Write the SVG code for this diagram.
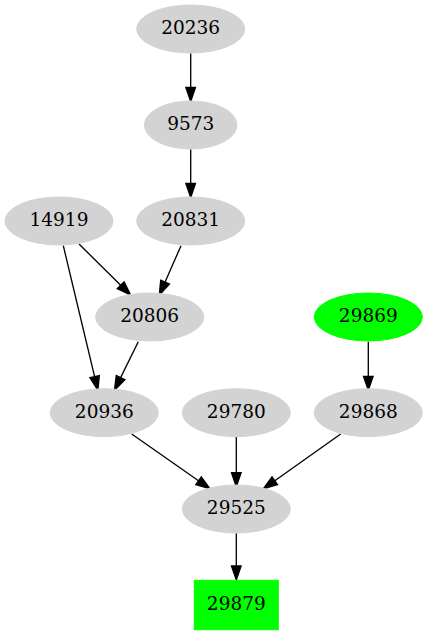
<svg xmlns="http://www.w3.org/2000/svg" width="427" height="635" viewBox="0 0 427 635">
<style>
.n ellipse{fill:#d3d3d3;stroke:#d3d3d3}
.g ellipse,.g rect{fill:#00ff00;stroke:#00ff00}
text{font-family:"DejaVu Serif","Liberation Serif",serif;font-size:18.5px;text-anchor:middle;fill:#000}
.e line{stroke:#000;stroke-width:1.33;fill:none}
.e polygon{fill:#000;stroke:#000;stroke-width:1.33}
</style>
<rect width="427" height="635" fill="#fff"/>
<g class="e" id="edges">
<line x1="190.7" y1="53.3" x2="190.7" y2="87.5"/>
<polygon points="185.9,87.5 190.7,101.5 195.5,87.5"/>
<line x1="190.7" y1="149.3" x2="190.7" y2="183.5"/>
<polygon points="185.9,183.5 190.7,197.5 195.5,183.5"/>
<line x1="79" y1="244" x2="120.7" y2="285.2"/>
<polygon points="117.3,288.6 130.7,295 124.1,281.8"/>
<line x1="181" y1="245.7" x2="165.1" y2="282.1"/>
<polygon points="160.7,280.2 159.3,295 169.5,284"/>
<line x1="63.3" y1="245.7" x2="94.6" y2="376.6"/>
<polygon points="89.9,377.7 97.9,390.3 99.3,375.5"/>
<line x1="138.3" y1="341.7" x2="120.6" y2="377.6"/>
<polygon points="116.3,375.5 114.4,390.3 124.9,379.7"/>
<line x1="368.3" y1="341.7" x2="368.3" y2="376.3"/>
<polygon points="363.5,376.3 368.3,390.3 373.1,376.3"/>
<line x1="131.7" y1="434" x2="198.5" y2="480.7"/>
<polygon points="195.8,484.6 210,488.7 201.3,476.8"/>
<line x1="236.3" y1="437" x2="236.3" y2="472.7"/>
<polygon points="231.5,472.7 236.3,486.7 241.1,472.7"/>
<line x1="340.7" y1="434" x2="274.8" y2="480.7"/>
<polygon points="272,476.8 263.3,488.7 277.5,484.6"/>
<line x1="236.3" y1="533.3" x2="236.3" y2="566"/>
<polygon points="231.5,566 236.3,580 241.1,566"/>
</g>
<g id="n20236" class="n"><ellipse cx="190.7" cy="29" rx="54" ry="24"/><text x="190.7" y="34.3">20236</text></g>
<g id="n9573" class="n"><ellipse cx="190.7" cy="125" rx="46.3" ry="24"/><text x="190.7" y="130.3">9573</text></g>
<g id="n14919" class="n"><ellipse cx="59" cy="221" rx="54" ry="24"/><text x="59" y="226.3">14919</text></g>
<g id="n20831" class="n"><ellipse cx="190.7" cy="221" rx="54" ry="24"/><text x="190.7" y="226.3">20831</text></g>
<g id="n20806" class="n"><ellipse cx="149.7" cy="317" rx="54" ry="24"/><text x="149.7" y="322.3">20806</text></g>
<g id="n29869" class="g"><ellipse cx="368.3" cy="317" rx="54" ry="24"/><text x="368.3" y="322.3">29869</text></g>
<g id="n20936" class="n"><ellipse cx="104.3" cy="412.7" rx="54" ry="24"/><text x="104.3" y="418">20936</text></g>
<g id="n29780" class="n"><ellipse cx="236.3" cy="412.7" rx="54" ry="24"/><text x="236.3" y="418">29780</text></g>
<g id="n29868" class="n"><ellipse cx="368.3" cy="412.7" rx="54" ry="24"/><text x="368.3" y="418">29868</text></g>
<g id="n29525" class="n"><ellipse cx="236.3" cy="509" rx="54" ry="24"/><text x="236.3" y="514.3">29525</text></g>
<g id="n29879" class="g"><rect x="194.3" y="580.3" width="84" height="49.4"/><text x="236.3" y="610.3">29879</text></g>
</svg>
